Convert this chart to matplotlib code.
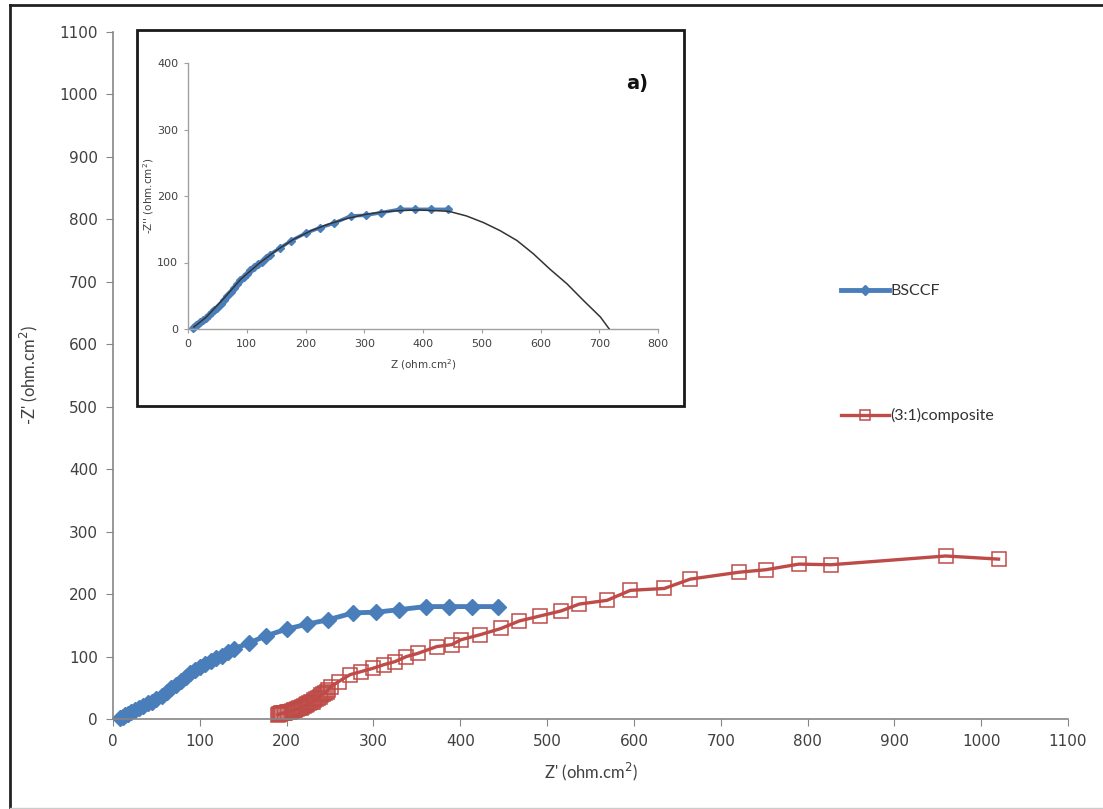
import matplotlib.pyplot as plt
from matplotlib.lines import Line2D
from matplotlib.patches import Rectangle

# impedance data, Z' and -Z'' in ohm.cm2
bsccf_x = [8, 11, 14, 17, 21, 25, 30, 35, 40, 45, 50, 56, 62, 67, 73, 78, 84, 89, 95, 100,
           106, 113, 119, 126, 132, 139, 157, 176, 200, 224, 248, 277, 303, 329, 360, 387, 413, 443]
bsccf_y = [1, 3, 6, 8, 11, 14, 17, 21, 25, 28, 32, 37, 44, 50, 55, 61, 67, 73, 78, 83,
           88, 93, 97, 101, 107, 112, 122, 133, 144, 152, 159, 170, 171, 175, 180, 180, 180, 180]

comp_x = [190, 191, 192, 194, 195, 197, 198, 200, 202, 204, 206, 208, 210, 212, 214, 216,
          218, 220, 222, 224, 226, 228, 230, 232, 234, 236, 238, 240, 242, 244, 246, 248, 251,
          260, 273, 286, 299, 312, 325, 338, 351, 373, 390, 401, 423, 447, 468, 492, 516, 537,
          569, 596, 635, 665, 721, 752, 790, 827, 959, 1020]
comp_y = [7, 8, 8, 9, 9, 10, 10, 11, 12, 12, 13, 14, 15, 16, 17, 18,
          19, 21, 22, 24, 25, 27, 28, 30, 32, 34, 36, 38, 40, 42, 44, 47, 52,
          60, 71, 76, 81, 87, 92, 100, 105, 116, 119, 127, 135, 145, 157, 165, 173, 184,
          190, 206, 209, 224, 235, 239, 248, 247, 261, 256]

# fitted arc for BSCCF (inset)
fit_x = [10, 30, 60, 90, 120, 150, 180, 210, 240, 270, 300, 330, 360, 390, 420, 444,
         474, 503, 531, 560, 588, 616, 645, 673, 702, 717]
fit_y = [3, 17, 45, 75, 98, 118, 135, 148, 158, 166, 172, 176, 178, 179, 178, 177,
         170, 160, 148, 133, 113, 90, 68, 43, 18, 0]

main_ticks = list(range(0, 1101, 100))
inset_xticks = list(range(0, 801, 100))
inset_yticks = list(range(0, 401, 100))

BLUE = '#4A7EBB'
RED = '#BE4B48'
GREY = '#868686'
TXT = '#404040'

W, H = 1103, 809
fig = plt.figure(figsize=(W / 100, H / 100), dpi=100)

ax = fig.add_axes([113 / W, 1 - 719 / H, (1068 - 113) / W, (719 - 32) / H])
ax.set_zorder(0)
ax.plot(bsccf_x, bsccf_y, color=BLUE, lw=3.5, marker='D', ms=8.5,
        mfc=BLUE, mec=BLUE, label='BSCCF', clip_on=False)
ax.plot(comp_x, comp_y, color=RED, lw=2.4, marker='s', ms=10, mfc='none',
        mec=RED, mew=1.1, label='(3:1)composite', clip_on=False)
ax.set_xlim(0, 1100)
ax.set_ylim(0, 1100)
ax.set_xticks(main_ticks)
ax.set_yticks(main_ticks)
for s in ['top', 'right']:
    ax.spines[s].set_visible(False)
for s in ['left', 'bottom']:
    ax.spines[s].set_color(GREY)
    ax.spines[s].set_linewidth(1.2)
ax.tick_params(direction='out', length=5, color=GREY, labelsize=11, labelcolor=TXT, pad=6)
ax.set_xlabel("Z' (ohm.cm$^2$)", fontsize=12, color=TXT, family='Lato', labelpad=8)
ax.set_ylabel("-Z' (ohm.cm$^2$)", fontsize=12, color=TXT, family='Lato', labelpad=14)

leg = ax.legend(loc='upper left', bbox_to_anchor=(833 / W, 1 - 276 / H),
                bbox_transform=fig.transFigure, frameon=False,
                labelspacing=6.9, handlelength=3.0, handletextpad=0.1, borderpad=0,
                markerscale=0.65, prop={'family': 'Lato', 'size': 11.5})
for t in leg.get_texts():
    t.set_color('#333333')

# white box behind the inset
fig.patches.append(Rectangle((137 / W, 1 - 406 / H), 547 / W, 376 / H,
                             transform=fig.transFigure, facecolor='white',
                             edgecolor='#1a1a1a', lw=2, zorder=1))

ins = fig.add_axes([188 / W, 1 - 329 / H, 470 / W, 266 / H])
ins.set_zorder(2)
ins.patch.set_alpha(0)
ins.plot(fit_x, fit_y, color='#333333', lw=1.1, zorder=3)
ins.plot(bsccf_x, bsccf_y, color=BLUE, lw=2.5, marker='D', ms=4.5, mfc=BLUE,
         mec=BLUE, zorder=2, clip_on=False)
ins.set_xlim(0, 800)
ins.set_ylim(0, 400)
ins.set_xticks(inset_xticks)
ins.set_yticks(inset_yticks)
for s in ['top', 'right']:
    ins.spines[s].set_visible(False)
for s in ['left', 'bottom']:
    ins.spines[s].set_color('#A0A0A0')
    ins.spines[s].set_linewidth(1)
ins.tick_params(direction='out', length=3, color='#A0A0A0', labelsize=8,
                labelcolor=TXT, pad=4)
for lab in ins.get_xticklabels() + ins.get_yticklabels():
    lab.set_family('Liberation Sans Narrow')
ins.set_xlabel("Z (ohm.cm$^2$)", fontsize=7.5, color=TXT, labelpad=6,
               family='Liberation Sans Narrow')
ins.set_ylabel("-Z'' (ohm.cm$^2$)", fontsize=7.5, color=TXT, labelpad=1,
               family='Liberation Sans Narrow')
fig.text(637 / W, 1 - 83 / H, 'a)', fontsize=14, fontweight='bold',
         ha='center', va='center', color='#111111')

# outer frame
fig.add_artist(Line2D([10 / W, 10 / W], [0, 1 - 5 / H], color='#222222', lw=2))
fig.add_artist(Line2D([10 / W, 1], [1 - 5 / H, 1 - 5 / H], color='#222222', lw=2))
fig.add_artist(Line2D([10 / W, 1], [1 / H, 1 / H], color='#CCCCCC', lw=1))

fig.savefig('out.png', dpi=100, facecolor='white')
